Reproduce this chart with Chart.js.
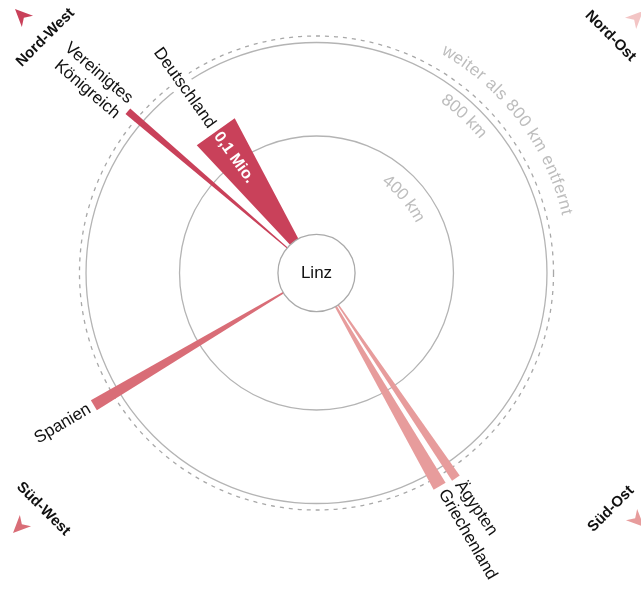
<!DOCTYPE html>
<html>
<head>
<meta charset="utf-8">
<script src="https://cdn.jsdelivr.net/npm/chart.js@4.4.0/dist/chart.umd.min.js"></script>
<style>
body { margin: 0; background: #fff; }
canvas { display: block; }
</style>
</head>
<body>
<canvas id="flightChart" width="641" height="589"></canvas>
<script>
// Ziele ab Linz
const countries = ['Deutschland', 'Vereinigtes Königreich', 'Spanien', 'Griechenland', 'Ägypten'];
const bearings = [324.5, 310.6, 239.3, 150.0, 145.8];   // Richtung in Grad, Norden = 0
const distancesKm = [563, 877, 922, 868, 875];
const passengersMio = [0.1, 0.011, 0.017, 0.021, 0.014];

const ringKm = [400, 800];
const ringLabels = ['400 km', '800 km'];
const farKm = 828;
const farLabel = 'weiter als 800 km entfernt';
const directions = ['Nord-West', 'Nord-Ost', 'Süd-West', 'Süd-Ost'];

const HUB = 186;          // Radius-Versatz in km-Einheiten
const LINZ_R = 165;
const DEG_PER_MIO = 153;
const PX_PER_KM = 0.23375;
const XMAX = 316.5 / PX_PER_KM;
const YMAX = 273 / PX_PER_KM;
const FONT = '"Liberation Sans", Arial, Helvetica, sans-serif';

function colorFor(deg) {
    if (deg >= 270) return '#c9415a';
    if (deg >= 180) return '#d96d77';
    if (deg >= 90) return '#e79c9c';
    return '#f3c5c5';
}

function polar(r, deg) {
    const a = deg * Math.PI / 180;
    return { x: r * Math.sin(a), y: r * Math.cos(a) };
}

const datasets = countries.map((name, i) => {
    const r = HUB + distancesKm[i];
    const half = passengersMio[i] * DEG_PER_MIO / 2;
    return {
        label: name,
        data: [polar(0, 0), polar(r, bearings[i] - half), polar(r, bearings[i] + half)],
        showLine: true,
        fill: 'shape',
        backgroundColor: colorFor(bearings[i]),
        borderColor: 'transparent',
        borderWidth: 0,
        pointRadius: 0,
        tension: 0
    };
});

function arcText(ctx, text, cx, cy, r, centerDeg, spacing = 0) {
    const chars = [...text];
    const total = ctx.measureText(text).width + spacing * (chars.length - 1);
    let a = centerDeg * Math.PI / 180 - total / 2 / r;
    for (const ch of chars) {
        const w = ctx.measureText(ch).width;
        const mid = a + w / 2 / r;
        ctx.save();
        ctx.translate(cx + r * Math.sin(mid), cy - r * Math.cos(mid));
        ctx.rotate(mid);
        ctx.fillText(ch, 0, 0);
        ctx.restore();
        a += (w + spacing) / r;
    }
}

// Beschriftung entlang des Strahls, nie auf dem Kopf
function radialText(ctx, lines, cx, cy, r, deg, halo) {
    const b = deg * Math.PI / 180;
    const east = deg < 180;
    const angle = east ? Math.atan2(-Math.cos(b), Math.sin(b)) : Math.atan2(Math.cos(b), -Math.sin(b));
    ctx.save();
    ctx.translate(cx + r * Math.sin(b), cy - r * Math.cos(b));
    ctx.rotate(angle);
    ctx.textAlign = east ? 'left' : 'right';
    ctx.textBaseline = 'middle';
    lines.forEach((line, j) => {
        const yOff = (j - (lines.length - 1) / 2) * 20;
        if (halo) ctx.strokeText(line, 0, yOff);
        else ctx.fillText(line, 0, yOff);
    });
    ctx.restore();
}

function labelLines(name) {
    return name === 'Vereinigtes Königreich' ? ['Vereinigtes', 'Königreich'] : [name];
}

function arrow(ctx, x, y, deg, color) {
    ctx.save();
    ctx.translate(x, y);
    ctx.rotate(deg * Math.PI / 180);
    ctx.fillStyle = color;
    ctx.beginPath();
    ctx.moveTo(0, 0);
    ctx.lineTo(-17.6, -7.9);
    ctx.lineTo(-12.5, 0);
    ctx.lineTo(-17.6, 7.9);
    ctx.closePath();
    ctx.fill();
    ctx.restore();
}

const decor = {
    id: 'decor',
    beforeDatasetsDraw(chart) {
        const { ctx, scales: { x, y } } = chart;
        const cx = x.getPixelForValue(0), cy = y.getPixelForValue(0);
        const px = v => x.getPixelForValue(v) - cx;

        ctx.save();
        ctx.strokeStyle = '#b4b4b4';
        ctx.lineWidth = 1.3;
        ringKm.forEach(km => {
            ctx.beginPath();
            ctx.arc(cx, cy, px(HUB + km), 0, 2 * Math.PI);
            ctx.stroke();
        });
        ctx.setLineDash([4, 5]);
        ctx.strokeStyle = '#a8a8a8';
        ctx.beginPath();
        ctx.arc(cx, cy, px(HUB + farKm), 0, 2 * Math.PI);
        ctx.stroke();
        ctx.setLineDash([]);

        // Ringbeschriftung
        ctx.fillStyle = '#bdbdbd';
        ctx.font = '17px ' + FONT;
        ctx.textAlign = 'center';
        ctx.textBaseline = 'middle';
        arcText(ctx, ringLabels[0], cx, cy, px(HUB + ringKm[0]) - 21, 49.6);
        arcText(ctx, ringLabels[1], cx, cy, px(HUB + ringKm[1]) - 14.5, 43.3);
        arcText(ctx, farLabel, cx, cy, px(HUB + farKm) + 20, 53.2, 0.7);

        // weisser Rand hinter Länderbeschriftung
        ctx.strokeStyle = '#fff';
        ctx.lineWidth = 14;
        ctx.lineJoin = 'round';
        ctx.font = '17px ' + FONT;
        countries.forEach((name, i) => {
            radialText(ctx, labelLines(name), cx, cy, px(HUB + distancesKm[i]) + 5, bearings[i], true);
        });
        ctx.restore();
    },
    afterDatasetsDraw(chart) {
        const { ctx, scales: { x, y } } = chart;
        const cx = x.getPixelForValue(0), cy = y.getPixelForValue(0);
        const px = v => x.getPixelForValue(v) - cx;

        ctx.save();
        // Linz
        ctx.beginPath();
        ctx.arc(cx, cy, px(LINZ_R), 0, 2 * Math.PI);
        ctx.fillStyle = '#fff';
        ctx.fill();
        ctx.strokeStyle = '#aaaaaa';
        ctx.lineWidth = 1.3;
        ctx.stroke();
        ctx.fillStyle = '#111';
        ctx.font = '17px ' + FONT;
        ctx.textAlign = 'center';
        ctx.textBaseline = 'middle';
        ctx.fillText('Linz', cx, cy);

        countries.forEach((name, i) => {
            radialText(ctx, labelLines(name), cx, cy, px(HUB + distancesKm[i]) + 5, bearings[i], false);
        });

        // Passagierzahl im groessten Keil
        const big = passengersMio.indexOf(Math.max(...passengersMio));
        const b = bearings[big] * Math.PI / 180;
        const r0 = px(HUB + distancesKm[big]) - 4;
        ctx.save();
        ctx.translate(cx + r0 * Math.sin(b), cy - r0 * Math.cos(b));
        ctx.rotate(Math.atan2(Math.cos(b), -Math.sin(b)));
        ctx.fillStyle = '#fff';
        ctx.font = 'bold 16px ' + FONT;
        ctx.textAlign = 'left';
        ctx.textBaseline = 'middle';
        ctx.fillText(passengersMio[big].toLocaleString('de-AT') + ' Mio.', 0, 0);
        ctx.restore();

        // Himmelsrichtungen
        arrow(ctx, 15, 9, -135, colorFor(315));
        arrow(ctx, 643, 11, -45, colorFor(45));
        arrow(ctx, 13, 533, 135, colorFor(225));
        arrow(ctx, 644, 527, 45, colorFor(135));
        const spots = [[45.5, 37.5, -45], [610.5, 36, 45], [43.3, 509, 45], [611, 509, -45]];
        ctx.fillStyle = '#111';
        ctx.font = 'bold 15px ' + FONT;
        directions.forEach((d, i) => {
            ctx.save();
            ctx.translate(spots[i][0], spots[i][1]);
            ctx.rotate(spots[i][2] * Math.PI / 180);
            ctx.fillText(d, 0, 0);
            ctx.restore();
        });
        ctx.restore();
    }
};

new Chart(document.getElementById('flightChart'), {
    type: 'scatter',
    data: { datasets: datasets },
    options: {
        responsive: false,
        animation: false,
        events: [],
        layout: { padding: { left: 0, right: 8, top: 0, bottom: 43 } },
        scales: {
            x: { type: 'linear', min: -XMAX, max: XMAX, display: false },
            y: { type: 'linear', min: -YMAX, max: YMAX, display: false }
        },
        plugins: {
            legend: { display: false },
            tooltip: { enabled: false }
        }
    },
    plugins: [decor]
});
</script>
</body>
</html>
